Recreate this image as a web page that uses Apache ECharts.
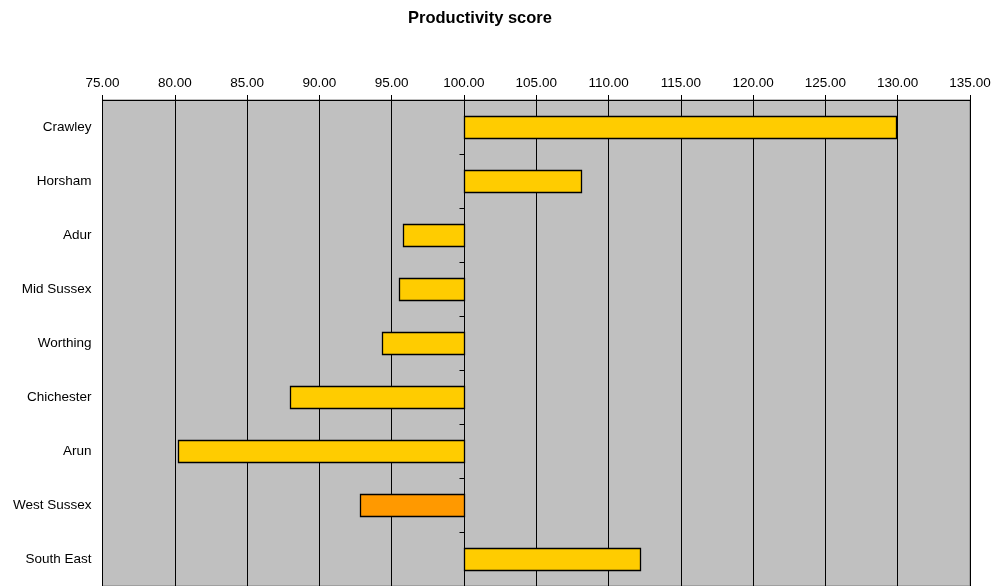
<!DOCTYPE html>
<html>
<head>
<meta charset="utf-8">
<script src="https://cdn.jsdelivr.net/npm/echarts@6/dist/echarts.min.js"></script>
<style>html,body{margin:0;padding:0;background:#fff}#c{width:995px;height:586px}</style>
</head>
<body>
<div id="c"></div>
<script>
var categories = ['Crawley','Horsham','Adur','Mid Sussex','Worthing','Chichester','Arun','West Sussex','South East'];
var scores = [129.9, 108.1, 95.8, 95.5, 94.3, 88.0, 80.2, 92.8, 112.2];
var baseline = 100;
var highlight = 'West Sussex';

var chart = echarts.init(document.getElementById('c'), null, {renderer:'canvas'});
var font = 'Arial, "Liberation Sans", sans-serif';

function barItem(params, api) {
  var idx = params.dataIndex;
  var v = api.value(1);
  var p0 = api.coord([baseline, idx]);
  var p1 = api.coord([v, idx]);
  var band = api.size([0, 1])[1];
  var h = band * 0.41;
  var x = Math.min(p0[0], p1[0]);
  var w = Math.abs(p1[0] - p0[0]);
  return {
    type: 'rect',
    shape: {x: Math.round(x) + 0.5, y: Math.round(p0[1] - h / 2) + 0.5, width: Math.round(w), height: Math.round(h)},
    style: {fill: categories[idx] === highlight ? '#FF9900' : '#FFCC00', stroke: '#000', lineWidth: 1.3}
  };
}

function axisItem(params, api) {
  var idx = params.dataIndex;
  var c = api.coord([baseline, idx]);
  var band = api.size([0, 1])[1];
  var x = Math.round(c[0]) + 0.5;
  var yTop = c[1] - band / 2;
  var yBot = c[1] + band / 2;
  return {
    type: 'group',
    children: [
      {type: 'line', shape: {x1: x, y1: yTop, x2: x, y2: yBot}, style: {stroke: '#000', lineWidth: 1}},
      {type: 'line', shape: {x1: x - 5, y1: Math.round(yTop) + 0.5, x2: x, y2: Math.round(yTop) + 0.5}, style: {stroke: '#000', lineWidth: 1}}
    ]
  };
}

var barData = categories.map(function (c, i) { return [i, scores[i]]; });
var barDataXY = categories.map(function (c, i) { return [scores[i], i]; });

chart.setOption({
  animation: false,
  backgroundColor: '#ffffff',
  title: {
    text: 'Productivity score',
    left: 403,
    top: 5,
    textStyle: {fontFamily: font, fontSize: 16.5, fontWeight: 'bold', color: '#000'}
  },
  grid: {left: 102.5, right: 25, top: 100, bottom: 0, show: true, backgroundColor: '#C0C0C0', borderColor: '#808080', borderWidth: 1},
  xAxis: {
    type: 'value',
    position: 'top',
    min: 75, max: 135, interval: 5,
    axisLine: {show: true, lineStyle: {color: '#000', width: 1}},
    axisTick: {show: true, length: 5, lineStyle: {color: '#000'}},
    axisLabel: {margin: 10, fontFamily: font, fontSize: 13.5, color: '#000', formatter: function (v) { return v.toFixed(2); }},
    splitLine: {show: true, lineStyle: {color: '#000', width: 1}}
  },
  yAxis: {
    type: 'category',
    inverse: true,
    data: categories,
    axisLine: {show: false},
    axisTick: {show: false},
    axisLabel: {margin: 11, fontFamily: font, fontSize: 13.5, color: '#000'},
    splitLine: {show: false}
  },
  series: [
    {type: 'custom', renderItem: axisItem, data: barDataXY, encode: {x: 0, y: 1}, z: 3, silent: true},
    {type: 'custom', renderItem: barItem, data: barData, encode: {x: 1, y: 0}, z: 5}
  ]
});
</script>
</body>
</html>
